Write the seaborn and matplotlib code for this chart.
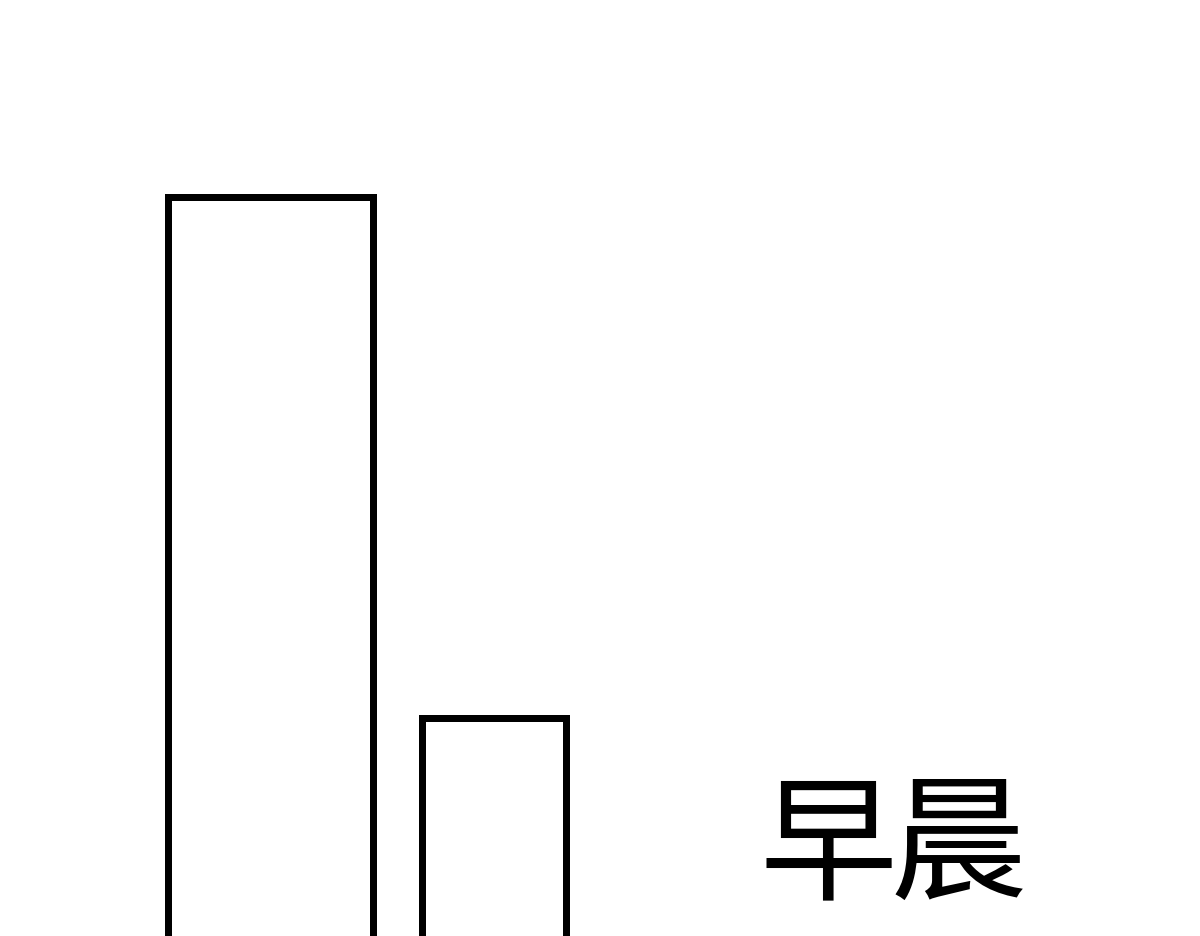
import matplotlib
matplotlib.use("Agg")
import matplotlib.pyplot as plt
import seaborn as sns
import pandas as pd

# Data
categories = ["左", "右"]
values = [759, 238.5]
bar_widths = [0.913, 0.640]
caption = "早晨"

sns.set_theme(style="white")
plt.rcParams['font.family'] = ['Noto Sans CJK SC', 'DejaVu Sans']

fig = plt.figure(figsize=(12, 9.37), dpi=100)
ax = fig.add_axes([0, 0, 1, 1])

df = pd.DataFrame({"cat": categories, "val": values})
for i, cat in enumerate(categories):
    sub = df[df["cat"] == cat]
    sns.barplot(data=sub, x="cat", y="val", order=categories, width=bar_widths[i],
                fill=False, edgecolor="black", linewidth=5.04, ax=ax, errorbar=None)

ax.set_xlim(-1.2103, 4.1588)
ax.set_ylim(20, 957)
ax.axis("off")

char_x = [828, 958]
for ch, px in zip(caption, char_x):
    fig.text(px / 1200, 1 - 850 / 937, ch, ha="center", va="center",
             fontsize=99, color="black", family=['Noto Sans CJK SC', 'DejaVu Sans'])

fig.savefig("out.png", dpi=100)
